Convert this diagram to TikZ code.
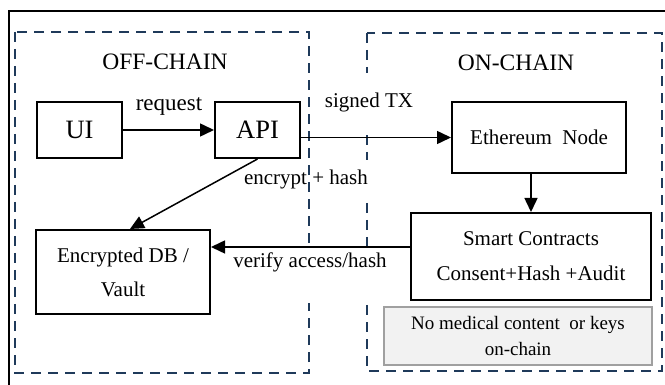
\documentclass[tikz,border=0pt]{standalone}
\usepackage{fontspec}
\setmainfont{Liberation Serif}
\usetikzlibrary{arrows.meta,calc}
\definecolor{navy}{HTML}{1F3A5A}
\definecolor{notefill}{HTML}{F2F2F2}
\definecolor{noteline}{HTML}{A0A0A0}
\tikzset{
  box/.style={draw=black,line width=2pt,fill=white,inner sep=0pt,align=center},
  region/.style={draw=navy,line width=2pt,dash pattern=on 10pt off 7pt},
  conn/.style={line width=1.5pt,-{Triangle[length=14pt,width=13pt]}},
  lbl/.style={font=\fontsize{21}{25}\selectfont,fill=white,inner sep=2pt,anchor=base},
  head/.style={font=\fontsize{23.5}{28}\selectfont,anchor=base},
  big/.style={font=\fontsize{26.5}{30}\selectfont},
  mid/.style={font=\fontsize{21}{25}\selectfont},
}
\begin{document}
\begin{tikzpicture}[x=1pt,y=-1pt]
\useasboundingbox (0,0) rectangle (665,385);
\clip (0,0) rectangle (665,385);
% outer frame
\draw[line width=1.5pt] (9,11) rectangle (700,420);
% on-chain region
\draw[region] (367,33) rectangle (662,371);
% labels that mask the on-chain border
\node[lbl,text height=33pt,text depth=25pt] (sig) at (369,108) {signed TX};
\node[lbl,text height=23pt,text depth=10pt] (enc) at (306,185) {encrypt + hash};
% off-chain region
\draw[region] (15,32) rectangle (309,373);
\node[lbl,text height=18pt,text depth=33pt] (ver) at (310,268) {verify access/hash};
% headings
\node[head] (offh) at (165,70) {OFF-CHAIN};
\node[head] (onh) at (516,71) {ON-CHAIN};
% boxes
\node[box,big,minimum width=85pt,minimum height=56pt] (ui) at (79.5,130) {UI};
\node[box,big,minimum width=85pt,minimum height=56pt] (api) at (257.5,130) {API};
\node[box,mid,minimum width=174pt,minimum height=71pt] (eth) at (539,137.5) {Ethereum\ \ Node};
\node[box,font=\fontsize{21}{35}\selectfont,minimum width=240pt,minimum height=87pt] (sc) at (531,256.5) {Smart Contracts\\Consent+Hash +Audit};
\node[box,draw=noteline,fill=notefill,font=\fontsize{19}{26}\selectfont,minimum width=268pt,minimum height=58pt] (note) at (518,336) {No medical content\ \ or keys\\on-chain};
\node[box,font=\fontsize{21}{34}\selectfont,minimum width=174pt,minimum height=84pt] (db) at (123,272) {Encrypted DB /\\Vault};
% connectors
\draw[conn] (ui.east) -- (api.west);
\node[lbl,fill=none,font=\fontsize{23}{27}\selectfont] (req) at (169,111) {request};
\draw[conn] (api.east |- eth.west) -- (eth.west);
\draw[conn] (eth.south -| sc.north) -- (sc.north);
\draw[conn] (api.south) -- ([xshift=7pt]db.north);
\coordinate (v) at ([yshift=9.5pt]sc.west);
\draw[conn] (v) -- (db.east |- v);
\end{tikzpicture}
\end{document}
